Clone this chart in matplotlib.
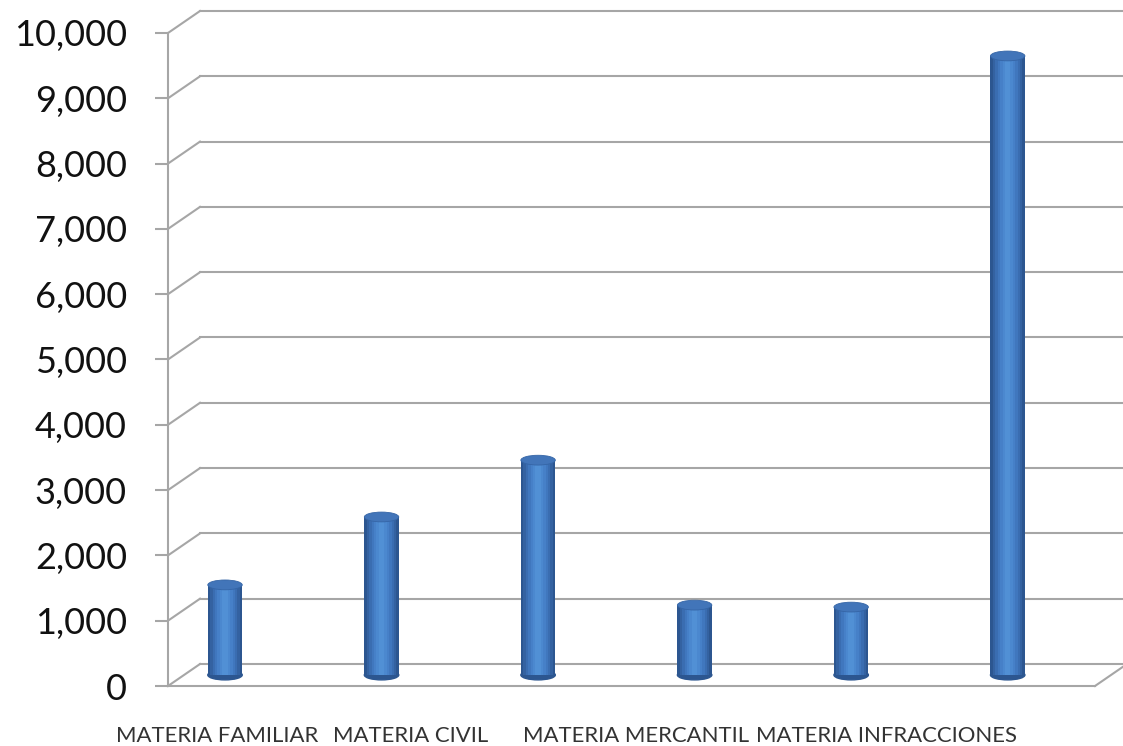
import numpy as np
import matplotlib
matplotlib.use('Agg')
import matplotlib.pyplot as plt
import matplotlib.transforms as mtransforms
from matplotlib.patches import Ellipse

plt.rcParams['font.family'] = ['Lato', 'DejaVu Sans']

# datos
valores = [1380, 2420, 3290, 1070, 1040, 9480]
etiquetas = ['MATERIA FAMILIAR', 'MATERIA CIVIL', 'MATERIA MERCANTIL', 'MATERIA INFRACCIONES']
pos_etiquetas = [0.054, 1.29, 2.727, 4.325]
yticks = list(range(0, 10001, 1000))

gris = '#a6a6a6'
x = np.arange(len(valores))
ancho = 0.22

fig = plt.figure(figsize=(11.23, 7.46), dpi=100)
ax = fig.add_axes([168 / 1123, 60 / 746, 927 / 1123, 653 / 746])
xmin, xmax = -0.262, 5.66
ax.set_xlim(xmin, xmax)
ax.set_ylim(0, 10000)

# desplazamientos para el efecto 3D
fondo = ax.transData + mtransforms.ScaledTranslation(0.32, 0.22, fig.dpi_scale_trans)
medio = ax.transData + mtransforms.ScaledTranslation(0.16, 0.11, fig.dpi_scale_trans)

# pared del fondo
for v in yticks:
    ax.plot([xmin, xmax + 1], [v, v], color=gris, lw=1.5, transform=fondo, clip_on=False, zorder=1)
fig.canvas.draw()
ident = mtransforms.IdentityTransform()
for v in yticks:
    px, py = ax.transData.transform((xmin, v))
    ax.plot([px, px + 32], [py, py + 22], color=gris, lw=1.5, transform=ident, clip_on=False, zorder=1)
px, py = ax.transData.transform((xmax, 0))
ax.plot([px, px + 32], [py, py + 22], color=gris, lw=1.5, transform=ident, clip_on=False, zorder=1)

# cilindros
tonos = ['#2c5690', '#3462a1', '#3a6db1', '#4077be', '#4680c8', '#4b88cf', '#5190d5']
fracs = [1.0, 0.86, 0.72, 0.58, 0.44, 0.3, 0.16]
alto_elipse = 150
for xi, v in zip(x, valores):
    ax.add_patch(Ellipse((xi, 0), ancho, alto_elipse, color='#2c5690', transform=medio, zorder=2))
for f, c in zip(fracs, tonos):
    ax.bar(x, valores, width=ancho * f, color=c, transform=medio, zorder=3, linewidth=0)
for xi, v in zip(x, valores):
    ax.add_patch(Ellipse((xi, v), ancho, alto_elipse, facecolor='#4275b9', edgecolor='#3565a6',
                         lw=0.6, transform=medio, zorder=4))

# ejes
for s in ['top', 'right']:
    ax.spines[s].set_visible(False)
ax.spines['left'].set_color(gris)
ax.spines['left'].set_linewidth(1.5)
ax.spines['bottom'].set_color(gris)
ax.spines['bottom'].set_linewidth(1.5)
ax.set_yticks(yticks)
ax.set_yticklabels(['{:,}'.format(v) for v in yticks], fontsize=26, color='#111111')
ax.tick_params(axis='y', length=9.5, width=1.5, color=gris, pad=20)
ax.set_xticks(pos_etiquetas)
ax.set_xticklabels(etiquetas, fontsize=15.9, color='#333333')
ax.tick_params(axis='x', length=0, pad=29)

plt.savefig('out.png', dpi=100)
